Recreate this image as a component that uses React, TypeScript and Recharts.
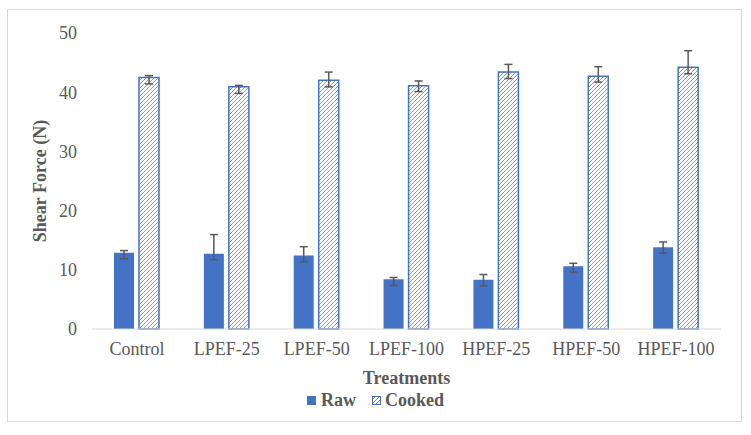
import React from 'react';
import { BarChart, Bar, XAxis, YAxis, ErrorBar, Legend } from 'recharts';

const categories = ['Control', 'LPEF-25', 'LPEF-50', 'LPEF-100', 'HPEF-25', 'HPEF-50', 'HPEF-100'];
const rawValues = [12.9, 12.7, 12.4, 8.4, 8.3, 10.6, 13.8];
const rawErrMinus = [1.05, 1.0, 1.05, 1.05, 1.0, 1.0, 1.0];
const rawErrPlus = [0.35, 3.25, 1.5, 0.3, 0.9, 0.5, 0.9];
const cookedValues = [42.5, 40.9, 42.0, 41.1, 43.4, 42.7, 44.2];
const cookedErrMinus = [1.1, 1.1, 1.1, 1.0, 1.1, 1.0, 1.1];
const cookedErrPlus = [0.3, 0.25, 1.4, 0.8, 1.3, 1.6, 2.8];
const yTicks = [0, 10, 20, 30, 40, 50];

const data = categories.map((name, i) => ({
  name,
  raw: rawValues[i],
  cooked: cookedValues[i],
  rawErr: [rawErrMinus[i], rawErrPlus[i]],
  cookedErr: [cookedErrMinus[i], cookedErrPlus[i]],
}));

const BLUE = '#4472C4';
const HATCH = '#7EA0DE';
const TEXT = '#595959';
const FONT = '"Liberation Serif", "Times New Roman", serif';

function LegendContent() {
  return (
    <div
      style={{
        display: 'flex',
        justifyContent: 'center',
        alignItems: 'center',
        height: 30,
        fontFamily: FONT,
        fontSize: 18,
        fontWeight: 'bold',
        color: TEXT,
      }}
    >
      <span style={{ display: 'inline-block', width: 9, height: 9, background: BLUE, marginRight: 5 }} />
      <span style={{ marginRight: 16 }}>Raw</span>
      <svg width={9} height={9} style={{ marginRight: 4 }}>
        <rect x={0.5} y={0.5} width={8} height={8} fill="url(#hatchFill)" stroke={BLUE} strokeWidth={1} />
      </svg>
      <span>Cooked</span>
    </div>
  );
}

function YLabel() {
  return (
    <text
      transform="translate(40,181) rotate(-90)"
      textAnchor="middle"
      dominantBaseline="central"
      fontFamily={FONT}
      fontSize={18}
      fontWeight="bold"
      fill={TEXT}
    >
      Shear Force (N)
    </text>
  );
}

export default function App() {
  return (
    <div style={{ position: 'absolute', left: 0, top: 0, width: 751, height: 435, background: '#fff', fontFamily: FONT }}>
      <svg width={0} height={0} style={{ position: 'absolute' }}>
        <defs>
          <pattern id="hatchFill" patternUnits="userSpaceOnUse" width={4} height={4}>
            <rect width={4} height={4} fill="#fff" />
            <path d="M-1,1 l2,-2 M0,4 l4,-4 M3,5 l2,-2" stroke={HATCH} strokeWidth={1} />
          </pattern>
        </defs>
      </svg>
      <div
        style={{
          position: 'absolute',
          left: 7,
          top: 9,
          width: 735,
          height: 413,
          border: '1px solid #d9d9d9',
          boxSizing: 'border-box',
        }}
      />
      <BarChart
        width={751}
        height={435}
        data={data}
        margin={{ top: 33, right: 30, bottom: 20, left: 0 }}
        barGap={5}
      >
        <XAxis
          dataKey="name"
          height={56}
          interval={0}
          tickLine={false}
          tickSize={0}
          tickMargin={13}
          axisLine={{ stroke: '#d9d9d9', strokeWidth: 1 }}
          tick={{ fontFamily: FONT, fontSize: 18, fill: TEXT }}
          label={{
            value: 'Treatments',
            position: 'insideBottom',
            offset: 1,
            style: { fontFamily: FONT, fontSize: 18, fontWeight: 'bold', fill: TEXT },
          }}
        />
        <YAxis
          width={92}
          domain={[0, 50]}
          ticks={yTicks}
          interval={0}
          axisLine={false}
          tickLine={false}
          tickSize={0}
          tickMargin={15}
          tick={{ fontFamily: FONT, fontSize: 18, fill: TEXT }}
          label={{ content: <YLabel /> }}
        />
        <Legend
          verticalAlign="bottom"
          content={<LegendContent />}
          wrapperStyle={{ left: 0, width: 751, height: 30, bottom: 20 }}
        />
        <Bar dataKey="raw" name="Raw" fill={BLUE} barSize={20} isAnimationActive={false}>
          <ErrorBar dataKey="rawErr" width={4} stroke={TEXT} strokeWidth={1.5} direction="y" />
        </Bar>
        <Bar
          dataKey="cooked"
          name="Cooked"
          fill="url(#hatchFill)"
          stroke={BLUE}
          strokeWidth={1.5}
          barSize={20}
          isAnimationActive={false}
        >
          <ErrorBar dataKey="cookedErr" width={4} stroke={TEXT} strokeWidth={1.5} direction="y" />
        </Bar>
      </BarChart>
    </div>
  );
}
